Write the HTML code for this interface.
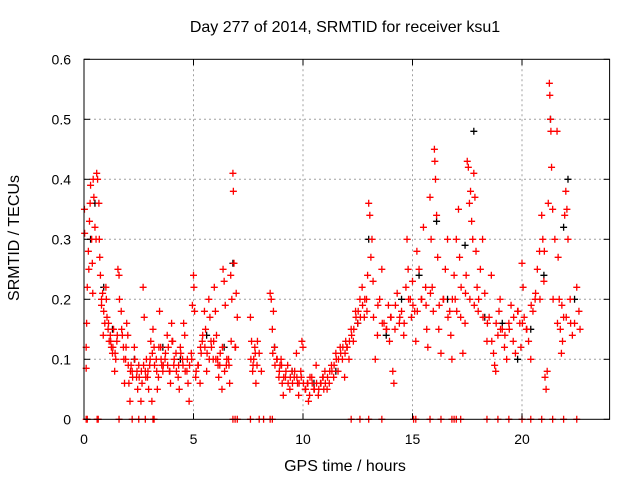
<!DOCTYPE html>
<html><head><meta charset="utf-8"><style>
body{margin:0;background:#fff;}
svg{display:block;font-family:"Liberation Sans",sans-serif;}
</style></head><body>
<svg id="chart" width="640" height="480" viewBox="0 0 640 480" xmlns="http://www.w3.org/2000/svg">
<rect width="640" height="480" fill="#fff"/>
<g id="grid"></g>
<g id="black"></g>
<g id="red"></g>
<rect x="84" y="59.3" width="525.6" height="360" fill="none" stroke="#000" stroke-width="1"/>
<g id="ticks"></g>
<text x="345" y="32" font-size="16" text-anchor="middle">Day 277 of 2014, SRMTID for receiver ksu1</text>
<text x="345" y="471" font-size="16" text-anchor="middle">GPS time / hours</text>
<text transform="translate(19,238) rotate(-90)" font-size="16" text-anchor="middle">SRMTID / TECUs</text>
</svg>
<script>
const xTicks=[0,5,10,15,20];
const yTicks=[0,0.1,0.2,0.3,0.4,0.5,0.6];
const yTickLabels=["0","0.1","0.2","0.3","0.4","0.5","0.6"];
const redT=[0.02,0.03,0.1,0.12,0.1,0.15,0.2,0.22,0.25,0.28,0.3,0.35,0.38,0.4,0.42,0.45,0.5,0.55,0.58,0.62,0.68,0.7,0.72,0.75,0.8,0.85,0.9,0.95,0.8,0.88,
1.0,1.05,1.1,1.15,1.2,1.25,1.3,1.35,1.4,1.45,1.5,1.55,1.6,1.62,1.7,1.75,1.8,1.85,1.9,1.95,
2.0,2.05,2.1,2.15,2.2,2.3,2.4,2.45,2.5,2.6,2.65,2.7,2.75,2.8,2.85,2.9,2.95,
3.0,3.05,3.1,3.15,3.2,3.3,3.35,3.4,3.45,3.5,3.55,3.6,3.7,3.8,3.85,3.9,3.95,
4.0,4.05,4.1,4.2,4.3,4.35,4.4,4.5,4.55,4.6,4.7,4.75,4.8,4.9,4.95,
5.0,5.02,5.05,5.1,5.2,5.3,5.35,5.4,5.5,5.55,5.6,5.7,5.75,5.8,5.9,5.95,
6.0,6.05,6.1,6.15,6.2,6.3,6.35,6.4,6.45,6.5,6.6,6.65,6.7,6.75,6.8,6.82,6.85,6.9,6.95,7.0,
7.6,7.65,7.7,7.75,7.8,7.85,7.9,8.0,8.1,8.5,8.55,8.6,8.65,8.7,8.8,8.9,8.95,
9.0,9.05,9.1,9.2,9.3,9.4,9.5,9.6,9.7,9.75,9.8,9.9,9.95,
10.0,10.1,10.2,10.25,10.3,10.4,10.5,10.6,10.7,10.8,10.9,10.95,
11.0,11.1,11.2,11.3,11.4,11.5,11.6,11.7,11.8,11.9,11.95,
12.0,12.1,12.2,12.3,12.4,12.5,12.6,12.7,12.8,12.9,12.95,
13.0,13.05,13.1,13.15,13.2,13.3,13.4,13.5,13.6,13.7,13.8,13.9,13.95,
14.0,14.1,14.15,14.2,14.3,14.4,14.5,14.6,14.7,14.75,14.8,14.9,14.95,
15.0,15.1,15.15,15.2,15.3,15.4,15.5,15.6,15.65,15.7,15.8,15.85,15.9,15.95,
16.0,16.02,16.05,16.1,16.15,16.2,16.3,16.4,16.5,16.6,16.7,16.75,16.8,16.9,16.95,
17.0,17.1,17.15,17.2,17.3,17.4,17.45,17.5,17.55,17.6,17.65,17.7,17.75,17.8,17.85,17.9,17.95,
18.0,18.1,18.2,18.3,18.4,18.5,18.6,18.7,18.75,18.8,18.9,18.95,
19.0,19.1,19.2,19.3,19.4,19.5,19.6,19.7,19.8,19.9,19.95,
20.0,20.05,20.1,20.2,20.3,20.4,20.5,20.6,20.7,20.8,20.9,20.95,
21.0,21.05,21.1,21.15,21.2,21.25,21.27,21.3,21.32,21.35,21.4,21.5,21.6,21.65,21.7,21.75,21.8,21.85,21.9,21.95,
22.0,22.05,22.1,22.2,22.3,22.4,22.5,22.6,22.65,
1.02,1.12,1.22,1.32,1.42,1.52,1.72,1.82,1.92,2.02,2.12,2.22,2.32,2.42,2.52,2.62,2.72,2.82,2.92,
3.02,3.12,3.22,3.32,3.42,3.52,3.62,3.72,3.82,3.92,4.02,4.12,4.22,4.32,4.42,4.52,4.62,4.72,4.82,4.92,
5.12,5.22,5.32,5.42,5.52,5.62,5.72,5.82,5.92,6.02,6.12,6.22,6.32,6.42,6.52,6.62,6.72,6.92,
7.62,7.72,7.82,7.92,8.62,8.72,8.82,8.92,9.02,9.12,9.22,9.32,9.42,9.52,9.62,9.72,9.82,9.92,
10.02,10.12,10.22,10.32,10.42,10.52,10.62,10.72,10.82,10.92,11.02,11.12,11.22,11.32,11.42,11.52,11.62,11.72,11.82,11.92,
12.02,12.12,12.22,12.32,12.42,12.52,12.62,12.72,12.82,12.92,13.22,13.42,13.62,13.82,14.02,14.22,14.42,14.62,14.82,
15.02,15.22,15.42,15.62,15.82,16.22,16.42,16.62,16.82,17.02,17.22,17.42,17.62,17.82,18.02,18.22,18.42,18.62,18.82,
19.02,19.22,19.42,19.62,19.82,20.02,20.22,20.42,20.62,20.82,21.02,21.42,21.62,21.82,22.02,22.22,22.42];
const redV=[0.35,0.31,0.12,0.16,0.085,0.22,0.28,0.25,0.33,0.36,0.39,0.30,0.26,0.21,0.4,0.37,0.32,0.3,0.41,0.4,0.36,0.30,0.27,0.24,0.2,0.21,0.18,0.16,0.19,0.14,
0.22,0.17,0.15,0.13,0.14,0.12,0.11,0.15,0.08,0.1,0.13,0.25,0.24,0.2,0.18,0.14,0.12,0.06,0.1,0.16,
0.14,0.06,0.03,0.09,0.08,0.12,0.07,0.05,0.09,0.03,0.06,0.22,0.17,0.08,0.1,0.07,0.05,
0.09,0.13,0.03,0.15,0.12,0.1,0.05,0.07,0.18,0.12,0.09,0.08,0.1,0.14,0.12,0.08,0.06,
0.16,0.13,0.09,0.11,0.07,0.05,0.12,0.1,0.16,0.14,0.08,0.06,0.03,0.11,0.19,
0.24,0.22,0.18,0.07,0.09,0.06,0.11,0.13,0.18,0.15,0.08,0.2,0.17,0.13,0.1,0.22,
0.18,0.14,0.1,0.07,0.09,0.05,0.25,0.23,0.19,0.09,0.1,0.06,0.24,0.2,0.41,0.38,0.26,0.12,0.21,0.17,
0.17,0.13,0.08,0.1,0.12,0.06,0.09,0.11,0.08,0.21,0.2,0.15,0.18,0.12,0.1,0.07,0.09,
0.1,0.06,0.04,0.07,0.09,0.05,0.08,0.07,0.11,0.06,0.04,0.08,0.13,
0.12,0.05,0.06,0.03,0.04,0.07,0.05,0.09,0.04,0.06,0.07,0.05,
0.08,0.05,0.06,0.09,0.07,0.11,0.08,0.12,0.1,0.07,0.13,
0.12,0.1,0.15,0.13,0.18,0.16,0.2,0.22,0.17,0.2,0.24,
0.36,0.34,0.27,0.3,0.23,0.1,0.14,0.2,0.25,0.16,0.15,0.19,0.13,
0.17,0.08,0.06,0.15,0.21,0.16,0.18,0.14,0.22,0.3,0.25,0.2,0.17,
0.23,0.18,0.13,0.28,0.25,0.2,0.32,0.22,0.15,0.12,0.37,0.3,0.22,0.18,
0.45,0.43,0.4,0.34,0.27,0.15,0.11,0.2,0.25,0.3,0.18,0.14,0.1,0.24,0.2,
0.3,0.35,0.27,0.17,0.11,0.16,0.24,0.43,0.42,0.36,0.38,0.33,0.3,0.41,0.37,0.28,0.22,
0.18,0.25,0.3,0.21,0.13,0.17,0.24,0.11,0.09,0.08,0.14,0.18,
0.2,0.15,0.12,0.1,0.16,0.19,0.13,0.11,0.18,0.16,0.12,
0.26,0.22,0.17,0.15,0.13,0.1,0.18,0.2,0.25,0.28,0.34,0.3,
0.23,0.07,0.05,0.08,0.36,0.56,0.54,0.5,0.48,0.42,0.35,0.3,0.48,0.27,0.2,0.15,0.11,0.13,0.17,0.34,
0.38,0.35,0.3,0.2,0.14,0.16,0.22,0.18,0.15,
0.2,0.16,0.13,0.12,0.11,0.14,0.15,0.1,0.12,0.09,0.08,0.07,0.1,0.08,0.07,0.08,0.09,0.07,0.08,
0.1,0.11,0.09,0.08,0.12,0.1,0.09,0.11,0.09,0.08,0.13,0.1,0.08,0.09,0.11,0.09,0.08,0.1,0.09,
0.1,0.08,0.09,0.12,0.14,0.12,0.11,0.1,0.12,0.13,0.1,0.09,0.11,0.12,0.08,0.1,0.09,0.13,
0.12,0.1,0.09,0.11,0.13,0.11,0.09,0.1,0.08,0.09,0.07,0.08,0.06,0.07,0.06,0.08,0.07,0.06,
0.07,0.06,0.05,0.06,0.07,0.06,0.05,0.06,0.05,0.06,0.07,0.06,0.07,0.08,0.08,0.09,0.1,0.1,0.11,0.12,
0.11,0.12,0.13,0.14,0.15,0.17,0.18,0.17,0.19,0.2,0.18,0.17,0.19,0.16,0.15,0.17,0.19,0.17,0.16,
0.2,0.19,0.18,0.2,0.19,0.21,0.19,0.2,0.17,0.2,0.18,0.22,0.21,0.2,0.19,0.2,0.17,0.16,0.13,
0.16,0.15,0.14,0.15,0.17,0.18,0.16,0.15,0.19,0.21,0.2,0.28,0.2,0.16,0.19,0.17,0.16];
const blackT=[0.3,0.5,0.9,1.3,2.3,3.6,4.4,5.6,6.4,6.8,8.7,9.5,10.5,11.5,12.5,13.0,13.8,14.5,15.3,16.1,16.6,17.4,17.8,18.3,19.1,19.8,20.4,21.0,21.3,21.9,22.1,22.4];
const blackV=[0.3,0.36,0.22,0.15,0.1,0.12,0.1,0.14,0.12,0.26,0.12,0.08,0.06,0.08,0.16,0.3,0.14,0.2,0.24,0.33,0.2,0.29,0.48,0.17,0.16,0.1,0.15,0.24,0.5,0.32,0.4,0.2];
const zeroT=[0.1,0.15,0.6,0.65,1.6,2.2,2.5,2.8,3.15,3.2,6.8,6.9,7.0,7.6,8.0,8.2,8.5,8.6,12.2,12.6,13.0,13.6,15.05,15.15,15.8,16.3,16.8,16.9,17.0,17.2,18.4,18.9,19.4,20.0,20.4,20.9,21.4,21.9,22.5];

const X0=84,XW=525.6,XMAX=24,Y0=419.3,YH=360,YMAX=0.6;
const xs=t=>X0+t/XMAX*XW, ys=v=>Y0-v/YMAX*YH;
const NS='http://www.w3.org/2000/svg';
function mk(tag,attrs,parent){const e=document.createElementNS(NS,tag);for(const k in attrs)e.setAttribute(k,attrs[k]);parent.appendChild(e);return e;}
const grid=document.getElementById('grid'),ticks=document.getElementById('ticks');
xTicks.forEach(t=>{const x=xs(t);
 if(t>0){const g=mk('line',{x1:x,x2:x,y1:59.3,y2:Y0,stroke:'#a0a0a0','stroke-dasharray':'2,3'},grid);
 
 }
 mk('line',{x1:x,x2:x,y1:Y0,y2:Y0-6,stroke:'#000'},ticks);
 mk('line',{x1:x,x2:x,y1:59.3,y2:65.3,stroke:'#000'},ticks);
 const l=mk('text',{x:x,y:444,'font-size':14,'text-anchor':'middle'},ticks);l.textContent=String(t);
 
 
});
yTicks.forEach((v,i)=>{const y=ys(v);
 if(v>0&&v<YMAX){const g=mk('line',{x1:X0,x2:X0+XW,y1:y,y2:y,stroke:'#a0a0a0','stroke-dasharray':'2,3'},grid);
 
 }
 mk('line',{x1:X0,x2:X0+6,y1:y,y2:y,stroke:'#000'},ticks);
 mk('line',{x1:X0+XW,x2:X0+XW-6,y1:y,y2:y,stroke:'#000'},ticks);
 const l=mk('text',{x:71,y:y+5,'font-size':14,'text-anchor':'end'},ticks);l.textContent=yTickLabels[i];
 
 
});
function plus(g,t,v,col,name){const x=xs(t),y=ys(v);
 const p=mk('path',{d:`M${x-3.5},${y}h7M${x},${y-3.5}v7`,stroke:col,'stroke-width':1.3,fill:'none'},g);
 
 }
const gb=document.getElementById('black'),gr=document.getElementById('red');
blackT.forEach((t,i)=>plus(gb,t,blackV[i],'#000','black-point'));
redT.forEach((t,i)=>plus(gr,t,redV[i],'#f00','red-point'));
zeroT.forEach(t=>plus(gr,t,0,'#f00','zero-point'));
</script>
</body></html>
